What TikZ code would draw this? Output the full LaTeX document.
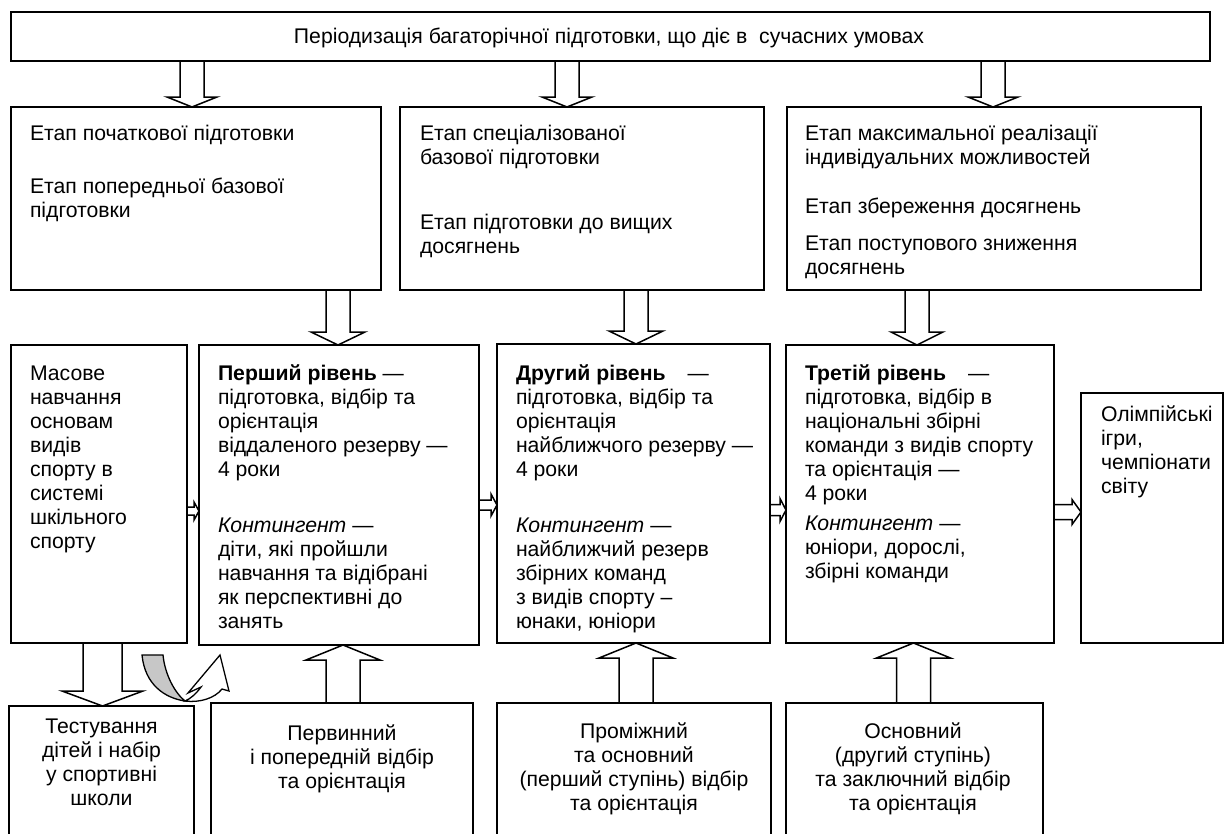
\documentclass[tikz,border=0pt]{standalone}
\usepackage{fontspec}
\setmainfont{Liberation Sans}
\usetikzlibrary{calc}
\newcommand{\fszA}{\fontsize{21.2}{24.5}\selectfont}
\newcommand{\fszB}{\fontsize{21.2}{24}\selectfont}
\tikzset{
  box/.style={draw, line width=1.7pt, inner sep=0pt, outer sep=0pt, rectangle, anchor=north west},
  blk/.style={draw, line width=1.5pt, line join=miter},
  ltxt/.style={inner sep=0pt, outer sep=0pt, anchor=base west, font=\fszA},
  rtxt/.style={inner sep=0pt, outer sep=0pt, anchor=base west, font=\fszB},
  ctxt/.style={inner sep=0pt, outer sep=0pt, anchor=base, font=\fszB},
}
% box: name, x1, y1, x2, y2 (image coordinates)
\newcommand{\mkbox}[5]{\node[box, minimum width=#4pt-#2pt, minimum height=#5pt-#3pt] (#1) at (#2,#3) {};}
% down block arrow: x, from, to, half shaft, half head, head length
\newcommand{\bdown}[6]{%
  \draw[blk] let \p1=(#2.south), \p2=(#3.north) in
    (#1pt-#4pt,\y1) -- (#1pt-#4pt,\y2+#6pt) -- (#1pt-#5pt,\y2+#6pt) -- (#1pt,\y2)
    -- (#1pt+#5pt,\y2+#6pt) -- (#1pt+#4pt,\y2+#6pt) -- (#1pt+#4pt,\y1);}
% up block arrow: x, from (lower), to (upper), half shaft, half head, head length
\newcommand{\bup}[6]{%
  \draw[blk] let \p1=(#2.north), \p2=(#3.south) in
    (#1pt-#4pt,\y1) -- (#1pt-#4pt,\y2-#6pt) -- (#1pt-#5pt,\y2-#6pt) -- (#1pt,\y2)
    -- (#1pt+#5pt,\y2-#6pt) -- (#1pt+#4pt,\y2-#6pt) -- (#1pt+#4pt,\y1);}
% right block arrow: y, from, to, half shaft, half head, head length
\newcommand{\bright}[6]{%
  \draw[blk] let \p1=(#2.east), \p2=(#3.west) in
    (\x1,-#1pt+#4pt) -- (\x2-#6pt,-#1pt+#4pt) -- (\x2-#6pt,-#1pt+#5pt) -- (\x2,-#1pt)
    -- (\x2-#6pt,-#1pt-#5pt) -- (\x2-#6pt,-#1pt-#4pt) -- (\x1,-#1pt-#4pt);}
\begin{document}
\begin{tikzpicture}[x=1pt, y=-1pt]
\useasboundingbox (0,0) rectangle (1225,833);
\clip (0,0) rectangle (1225,833);
\fill[white] (0,0) rectangle (1225,833);

% ---- boxes ----
\mkbox{top}{11}{12}{1210}{61}
\mkbox{ea}{11}{107}{381}{290}
\mkbox{eb}{400}{107}{764}{290}
\mkbox{ec}{787}{107}{1201}{290}
\mkbox{mas}{11}{345}{187}{643}
\mkbox{l1}{199}{345}{479}{645}
\mkbox{l2}{497}{344}{770}{643}
\mkbox{l3}{786}{345}{1054}{643}
\mkbox{ol}{1081}{393}{1223}{643}
\mkbox{tst}{9}{706}{194}{850}
\mkbox{s1}{211}{703}{473}{850}
\mkbox{s2}{497}{703}{771}{850}
\mkbox{s3}{786}{703}{1043}{850}

% ---- texts ----
\node[ctxt] (ttop) at (609,43) {Періодизація багаторічної підготовки, що діє в\ \ сучасних умовах};

\node[ltxt] (ea1) at (30,140) {Етап початкової підготовки};
\node[ltxt] (ea2) at (30,193) {\begin{tabular}[t]{@{}l@{}}Етап попередньої базової\\підготовки\end{tabular}};

\node[ltxt] (eb1) at (420,140) {\begin{tabular}[t]{@{}l@{}}Етап спеціалізованої\\базової підготовки\end{tabular}};
\node[ltxt] (eb2) at (420,229) {\begin{tabular}[t]{@{}l@{}}Етап підготовки до вищих\\досягнень\end{tabular}};

\node[ltxt] (ec1) at (805,140) {\begin{tabular}[t]{@{}l@{}}Етап максимальної реалізації\\індивідуальних можливостей\end{tabular}};
\node[ltxt] (ec2) at (805,213) {Етап збереження досягнень};
\node[ltxt] (ec3) at (805,250) {\begin{tabular}[t]{@{}l@{}}Етап поступового зниження\\досягнень\end{tabular}};

\node[rtxt] (tmas) at (30,380) {\begin{tabular}[t]{@{}l@{}}Масове\\навчання\\основам\\видів\\спорту в\\системі\\шкільного\\спорту\end{tabular}};

\node[rtxt] (tl1a) at (218,380) {\begin{tabular}[t]{@{}l@{}}\textbf{Перший рівень} —\\підготовка, відбір та\\орієнтація\\віддаленого резерву —\\4 роки\end{tabular}};
\node[rtxt] (tl1b) at (218,532) {\begin{tabular}[t]{@{}l@{}}\textit{Контингент} —\\діти, які пройшли\\навчання та відібрані\\як перспективні до\\занять\end{tabular}};

\node[rtxt] (tl2a) at (516,380) {\begin{tabular}[t]{@{}l@{}}\textbf{Другий рівень}\hspace{22pt}—\\підготовка, відбір та\\орієнтація\\найближчого резерву —\\4 роки\end{tabular}};
\node[rtxt] (tl2b) at (516,532) {\begin{tabular}[t]{@{}l@{}}\textit{Контингент} —\\найближчий резерв\\збірних команд\\з видів спорту –\\юнаки, юніори\end{tabular}};

\node[rtxt] (tl3a) at (805,380) {\begin{tabular}[t]{@{}l@{}}\textbf{Третій рівень}\hspace{22pt}—\\підготовка, відбір в\\національні збірні\\команди з видів спорту\\та орієнтація —\\4 роки\end{tabular}};
\node[rtxt] (tl3b) at (805,530) {\begin{tabular}[t]{@{}l@{}}\textit{Контингент} —\\юніори, дорослі,\\збірні команди\end{tabular}};

\node[rtxt] (tol) at (1101,421) {\begin{tabular}[t]{@{}l@{}}Олімпійські\\ігри,\\чемпіонати\\світу\end{tabular}};

\node[ctxt] (ttst) at (101.5,733) {\begin{tabular}[t]{@{}c@{}}Тестування\\дітей і набір\\у спортивні\\школи\end{tabular}};
\node[ctxt] (ts1) at (342,740) {\begin{tabular}[t]{@{}c@{}}Первинний\\і попередній відбір\\та орієнтація\end{tabular}};
\node[ctxt] (ts2) at (634,738) {\begin{tabular}[t]{@{}c@{}}Проміжний\\та основний\\(перший ступінь) відбір\\та орієнтація\end{tabular}};
\node[ctxt] (ts3) at (913,738) {\begin{tabular}[t]{@{}c@{}}Основний\\(другий ступінь)\\та заключний відбір\\та орієнтація\end{tabular}};

% ---- block arrows ----
\bdown{192}{top}{ea}{12}{25}{10}
\bdown{567}{top}{eb}{12}{25}{10}
\bdown{993}{top}{ec}{12}{25}{10}
\bdown{338}{ea}{l1}{12}{27}{13}
\bdown{636}{eb}{l2}{12}{27}{13}
\bdown{917}{ec}{l3}{12}{26}{13}
\bdown{102.5}{mas}{tst}{19.5}{40.5}{15}
\bup{343}{s1}{l1}{17}{37}{15}
\bup{636}{s2}{l2}{17}{37}{15}
\bup{913.5}{s3}{l3}{17}{37}{15}
\bright{511}{mas}{l1}{4}{9}{5}
\bright{505}{l1}{l2}{5}{11}{6}
\bright{510}{l2}{l3}{5.5}{11.5}{6}
\bright{512}{l3}{ol}{7.5}{12.5}{9}

% ---- curved arrow ----
\draw[line width=1.3pt, fill=black!22] (142,655) -- (163,655)
  .. controls (165,675) and (175,693) .. (185,701)
  .. controls (165,698) and (145,685) .. (142,655) -- cycle;
\draw[line width=1.3pt, fill=white, line join=miter] (185,701)
  .. controls (200,703) and (215,698) .. (222,689) -- (229,691) -- (220,655)
  -- (188,693) -- (201,687) .. controls (196,694) and (190,699) .. (185,701) -- cycle;
\end{tikzpicture}
\end{document}
